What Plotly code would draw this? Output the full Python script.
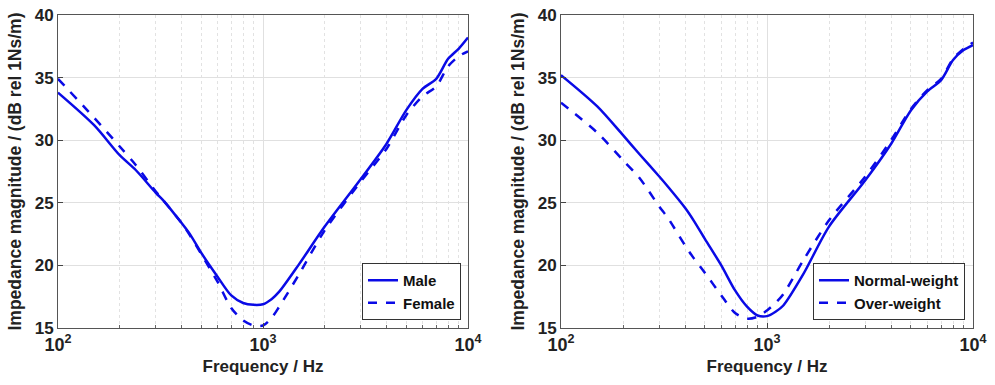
import plotly.graph_objects as go

freq = [100, 150, 200, 240, 300, 330, 400, 440, 500, 600, 700, 800, 900, 1000, 1100, 1200,
        1500, 2000, 3000, 4000, 5000, 6000, 7000, 8000, 9000, 10000]

male = [33.8, 31.2, 28.8, 27.6, 25.8, 25.1, 23.4, 22.5, 21.0, 19.1, 17.6, 17.0, 16.85, 16.9, 17.3, 17.9,
        20.1, 23.1, 26.9, 29.7, 32.4, 34.1, 34.9, 36.5, 37.3, 38.2]
female = [34.9, 31.8, 29.5, 28.0, 25.9, 25.1, 23.4, 22.4, 20.9, 18.7, 16.6, 15.6, 15.2, 15.2, 15.8, 16.7,
          19.3, 22.8, 26.7, 29.3, 32.0, 33.5, 34.3, 35.9, 36.7, 37.1]

normal = [35.2, 32.7, 30.4, 28.9, 27.1, 26.3, 24.6, 23.6, 22.1, 20.0, 18.0, 16.7, 16.0, 15.95, 16.3, 16.8,
          19.3, 23.1, 26.8, 29.7, 32.4, 33.9, 34.8, 36.4, 37.2, 37.6]
over = [33.0, 30.6, 28.4, 27.0, 24.7, 23.8, 21.6, 20.6, 19.4, 17.6, 16.2, 15.75, 15.9, 16.4, 17.0, 17.7,
        20.4, 23.6, 27.1, 30.0, 32.5, 34.0, 34.9, 36.5, 37.3, 37.8]

x_tickvals = [100, 1000, 10000]
x_ticktext = ["10<sup>2</sup>", "10<sup>3</sup>", "10<sup>4</sup>"]
y_tickvals = [15, 20, 25, 30, 35, 40]

BLUE = "#0a0ae6"
FONT = "Liberation Sans"

fig = go.Figure()
fig.add_trace(go.Scatter(x=freq, y=male, name="Male", mode="lines", line=dict(color=BLUE, width=2.5, shape="spline", smoothing=0.8),
                         xaxis="x", yaxis="y", legend="legend"))
fig.add_trace(go.Scatter(x=freq, y=female, name="Female", mode="lines", line=dict(color=BLUE, width=2.5, dash="dash", shape="spline", smoothing=0.8),
                         xaxis="x", yaxis="y", legend="legend"))
fig.add_trace(go.Scatter(x=freq, y=normal, name="Normal-weight", mode="lines", line=dict(color=BLUE, width=2.5, shape="spline", smoothing=0.8),
                         xaxis="x2", yaxis="y2", legend="legend2"))
fig.add_trace(go.Scatter(x=freq, y=over, name="Over-weight", mode="lines", line=dict(color=BLUE, width=2.5, dash="dash", shape="spline", smoothing=0.8),
                         xaxis="x2", yaxis="y2", legend="legend2"))

minor_vals = [m * 10 ** e for e in (2, 3) for m in range(2, 10)]

def xaxis(domain, anchor):
    return dict(domain=domain, anchor=anchor, type="log", range=[2, 4], automargin=False,
                tickvals=x_tickvals, ticktext=x_ticktext, ticks="inside", ticklen=5,
                tickcolor="#444", showline=True, linecolor="#555", linewidth=1, mirror=True,
                showgrid=True, gridcolor="#e0e0e0", gridwidth=1,
                minor=dict(tickvals=minor_vals, showgrid=True, gridcolor="#e2e2e2", griddash="dot",
                           ticks="inside", ticklen=3, tickcolor="#666"),
                tickfont=dict(family=FONT, size=18, color="#222", weight="bold"),
                title=dict(text="Frequency / Hz", font=dict(family=FONT, size=17, color="#222", weight="bold"), standoff=6),
                zeroline=False)

def yaxis(domain, anchor):
    return dict(domain=domain, anchor=anchor, range=[15, 40], tickvals=y_tickvals, automargin=False,
                ticks="inside", ticklen=5, tickcolor="#444",
                showline=True, linecolor="#555", linewidth=1, mirror=True,
                showgrid=True, gridcolor="#e0e0e0", gridwidth=1,
                tickfont=dict(family=FONT, size=17, color="#222", weight="bold"),
                title=dict(text="Impedance magnitude / (dB rel 1Ns/m)", font=dict(family=FONT, size=17.5, color="#222", weight="bold"), standoff=8),
                zeroline=False)

ydom = [1 - 328 / 385, 1 - 15 / 385]
fig.update_layout(
    width=995, height=385,
    margin=dict(l=0, r=0, t=0, b=0, autoexpand=False),
    paper_bgcolor="white", plot_bgcolor="white",
    xaxis=xaxis([58 / 995, 468 / 995], "y"),
    yaxis=yaxis(ydom, "x"),
    xaxis2=xaxis([561 / 995, 973 / 995], "y2"),
    yaxis2=yaxis(ydom, "x2"),
    legend=dict(x=461 / 995, y=1 - 320 / 385, xanchor="right", yanchor="bottom",
                bordercolor="#333", borderwidth=1, bgcolor="white",
                font=dict(family=FONT, size=15, color="#111", weight="bold"),
                tracegroupgap=0, itemwidth=30),
    legend2=dict(x=965 / 995, y=1 - 320 / 385, xanchor="right", yanchor="bottom",
                 bordercolor="#333", borderwidth=1, bgcolor="white",
                 font=dict(family=FONT, size=15, color="#111", weight="bold"),
                 tracegroupgap=0, itemwidth=30),
    showlegend=True,
)

fig.write_html("out.html", config={"displayModeBar": False},
               post_script="document.body.style.margin='0px';document.body.style.overflow='hidden';")
